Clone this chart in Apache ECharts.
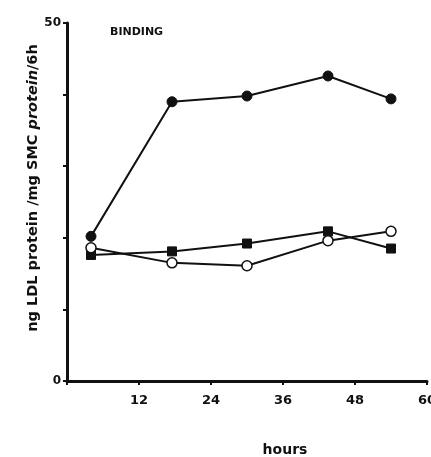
<!DOCTYPE html>
<html><head><meta charset="utf-8">
<script src="https://cdn.jsdelivr.net/npm/echarts@6/dist/echarts.min.js"></script>
<style>html,body{margin:0;padding:0;background:#fff}#c{width:431px;height:457px}</style>
</head><body><div id="c"></div>
<script>
const hours = [4, 17.5, 30, 43.5, 54];
const filledCircle = [20.2, 39.0, 39.8, 42.6, 39.4];
const openCircle = [18.6, 16.5, 16.1, 19.6, 20.9];
const filledSquare = [17.6, 18.1, 19.2, 20.9, 18.5];
const xTicks = [12, 24, 36, 48, 60];
const yTickLabels = {0: '0', 50: '50'};

const pair = (ys) => hours.map((h, i) => [h, ys[i]]);
const font = '"DejaVu Sans", "Liberation Sans", Arial, sans-serif';
const chart = echarts.init(document.getElementById('c'));
chart.setOption({
  backgroundColor: '#fff',
  animation: false,
  title: {
    text: 'BINDING', left: 105, top: 22,
    textStyle: {fontFamily: font, fontSize: 11, fontWeight: 'bold', color: '#111'}
  },
  grid: {left: 67, right: 4, top: 23, bottom: 76, outerBoundsMode: 'none', containLabel: false},
  xAxis: {
    type: 'value', min: 0, max: 60, interval: 12,
    name: 'hours', nameLocation: 'middle', nameGap: 62, nameMoveOverlap: false,
    nameTextStyle: {fontFamily: font, fontSize: 14, fontWeight: 'bold', color: '#111', padding: [0, 0, 0, 76]},
    axisLine: {lineStyle: {color: '#111', width: 3}},
    axisTick: {show: true, length: 4, lineStyle: {color: '#111', width: 2}},
    axisLabel: {
      fontFamily: font, fontSize: 13, fontWeight: 'bold', color: '#111', margin: 13,
      formatter: v => xTicks.includes(v) ? String(v) : ''
    },
    splitLine: {show: false}
  },
  yAxis: {
    type: 'value', min: 0, max: 50, interval: 10,
    name: '{a|ng LDL protein /mg SMC }{i|protein}{a|/6h}',
    nameLocation: 'middle', nameGap: 26, nameRotate: 90, nameMoveOverlap: false,
    nameTextStyle: {
      padding: [0, 0, 0, 28],
      rich: {
        a: {fontFamily: font, fontSize: 14.5, fontWeight: 'bold', color: '#111'},
        i: {fontFamily: font, fontSize: 14.5, fontWeight: 'bold', fontStyle: 'italic', color: '#111'}
      }
    },
    axisLine: {show: true, lineStyle: {color: '#111', width: 3}},
    axisTick: {show: true, length: 4, lineStyle: {color: '#111', width: 2}},
    axisLabel: {
      fontFamily: font, fontSize: 12, fontWeight: 'bold', color: '#111', margin: 6,
      formatter: v => yTickLabels[v] !== undefined ? yTickLabels[v] : ''
    },
    splitLine: {show: false}
  },
  series: [
    {type: 'line', data: pair(filledCircle), symbol: 'circle', symbolSize: 10,
     lineStyle: {color: '#111', width: 2}, itemStyle: {color: '#111', borderColor: '#111'}, z: 3},
    {type: 'line', data: pair(filledSquare), symbol: 'rect', symbolSize: 9,
     lineStyle: {color: '#111', width: 2}, itemStyle: {color: '#111', borderColor: '#111'}, z: 3},
    {type: 'line', data: pair(openCircle), symbol: 'circle', symbolSize: 10,
     lineStyle: {color: '#111', width: 2}, itemStyle: {color: '#fff', borderColor: '#111', borderWidth: 1.5}, z: 4}
  ]
});
</script></body></html>
